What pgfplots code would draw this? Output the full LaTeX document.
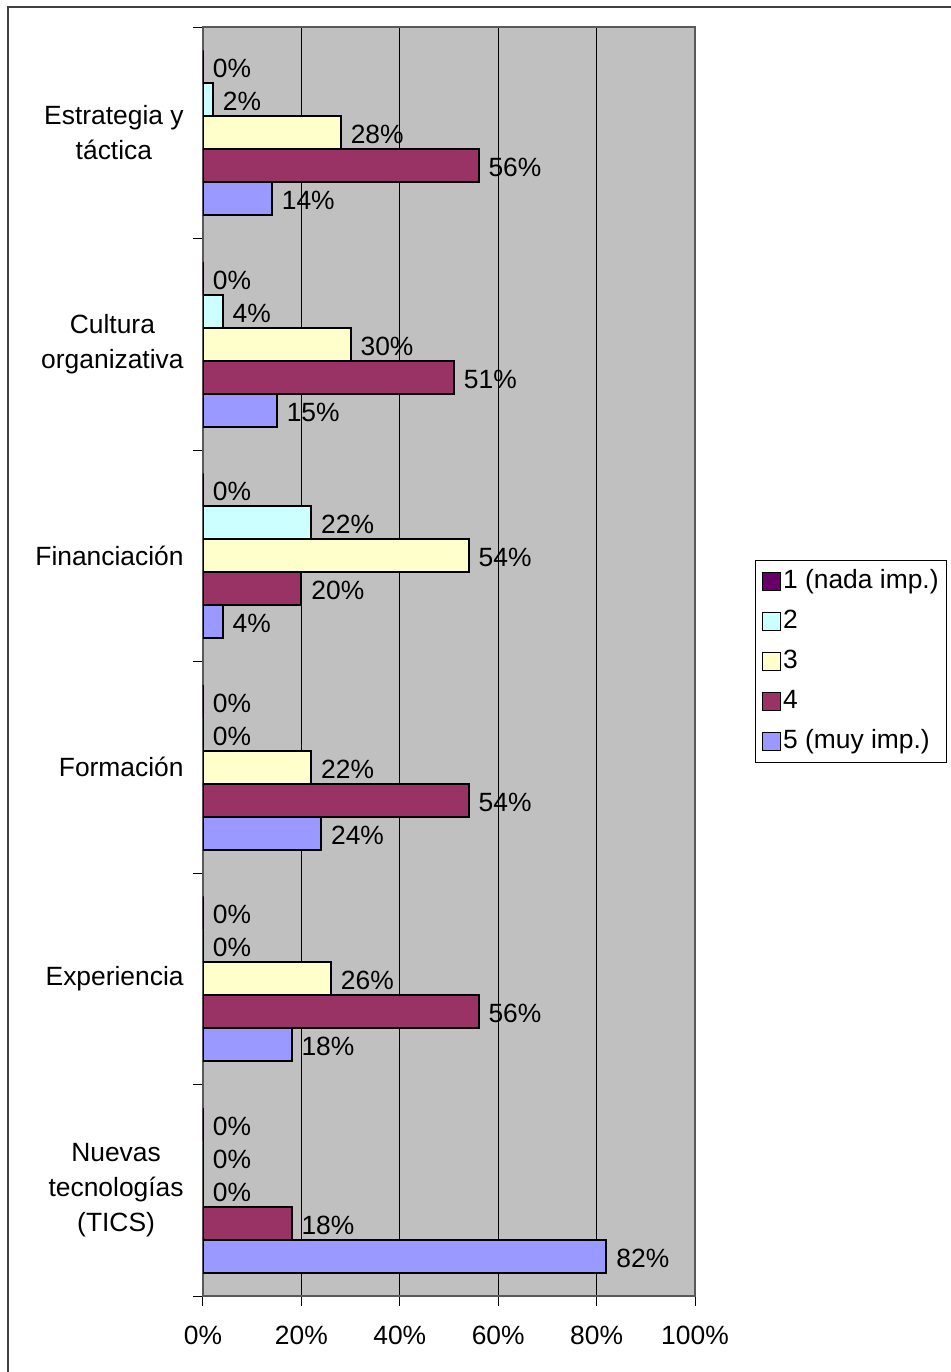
\documentclass[border=0pt]{standalone}
\usepackage{fontspec}
\setmainfont{Liberation Sans}
\usepackage{pgfplots}
\pgfplotsset{compat=1.18}
\definecolor{sA}{HTML}{660066}
\definecolor{sB}{HTML}{CCFFFF}
\definecolor{sC}{HTML}{FFFFCC}
\definecolor{sD}{HTML}{993366}
\definecolor{sE}{HTML}{9999FF}
\definecolor{bg}{HTML}{C0C0C0}
\begin{document}
\begin{tikzpicture}[font=\fontsize{13.2}{17.5}\selectfont]
\begin{axis}[
  at={(101.5pt,-648pt)}, anchor=south west,
  scale only axis, width=246pt, height=634.5pt,
  xbar, bar width=0.156,
  xmin=0, xmax=100, ymin=-0.5, ymax=5.5, y dir=reverse,
  xtick={0,20,...,100},
  xticklabel={\pgfmathprintnumber{\tick}\%},
  ytick={0,1,2,3,4,5},
  yticklabels={{Estrategia y\\táctica},{Cultura\\organizativa},{Financiación},{Formación},{Experiencia},{Nuevas\\tecnologías\\(TICS)}},
  minor ytick={-0.5,0.5,...,5.5},
  major y tick style={draw=none},
  tick align=outside, major tick length=5pt, minor tick length=5pt,
  xtick pos=bottom, ytick pos=left,
  tick style={black, line width=0.5pt},
  yticklabel style={align=center, anchor=east, inner sep=0pt, xshift=-4.5pt},
  xticklabel style={anchor=north, inner sep=0pt, yshift=-10pt},
  /pgf/number format/assume math mode=true,
  xmajorgrids, grid style={black, line width=0.5pt},
  axis background/.style={fill=bg},
  axis line style={draw=gray!70!black, line width=0.6pt},
  point meta=x,
  nodes near coords={\pgfmathprintnumber{\pgfplotspointmeta}\%},
  every node near coord/.append style={anchor=west, inner sep=0pt, xshift=4.5pt, yshift=-1pt, black},
  every axis plot/.append style={draw=black, line width=1pt},
  legend style={at={(1,0.5)}, anchor=west, xshift=30pt, draw=black, line width=0.5pt, fill=white,
    inner xsep=3pt, inner ysep=3pt, row sep=5pt, column sep=0pt,
    nodes={inner sep=1pt, text height=10pt, text depth=3pt}},
  legend cell align=left,
  legend image code/.code={\draw[#1, line width=0.8pt] (0pt,-4.5pt) rectangle (9pt,4.5pt);},
]
\addplot[fill=sA, bar shift=-0.312] coordinates {(0,0) (0,1) (0,2) (0,3) (0,4) (0,5)};
\addplot[fill=sB, bar shift=-0.156] coordinates {(2,0) (4,1) (22,2) (0,3) (0,4) (0,5)};
\addplot[fill=sC, bar shift=0] coordinates {(28,0) (30,1) (54,2) (22,3) (26,4) (0,5)};
\addplot[fill=sD, bar shift=0.156] coordinates {(56,0) (51,1) (20,2) (54,3) (56,4) (18,5)};
\addplot[fill=sE, bar shift=0.312] coordinates {(14,0) (15,1) (4,2) (24,3) (18,4) (82,5)};
\legend{1 (nada imp.),2,3,4,5 (muy imp.)}
\end{axis}
\draw[line width=1pt, draw=black!75] (4pt,-700pt) -- (4pt,-3.5pt) -- (490pt,-3.5pt);
\pgfresetboundingbox
\path[use as bounding box] (0,0) rectangle (475pt,-686pt);
\end{tikzpicture}
\end{document}
